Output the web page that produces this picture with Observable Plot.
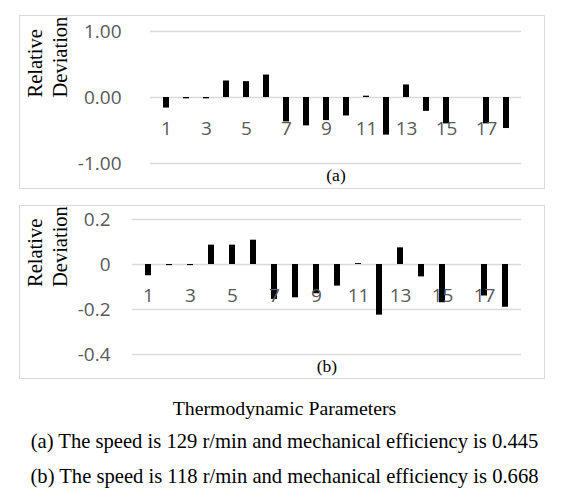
<!DOCTYPE html>
<html><head><meta charset="utf-8">
<script src="https://cdn.jsdelivr.net/npm/d3@7"></script>
<script src="https://cdn.jsdelivr.net/npm/@observablehq/plot@0.6"></script>
<style>
html,body{margin:0;padding:0;background:#fff;}
#root{position:relative;width:561px;height:499px;overflow:hidden;background:#fff;}
.panel{position:absolute;left:19px;width:526px;height:174px;}
.border{position:absolute;left:19px;width:526px;height:174px;box-sizing:border-box;border:1.5px solid #d9d9d9;pointer-events:none;}
.cap{position:absolute;left:0;width:569px;text-align:center;font-family:"Liberation Serif",serif;font-size:20.6px;line-height:24px;color:#000;white-space:nowrap;}
.cap.t{font-size:19.8px;}
</style></head><body><div id="root"></div>
<script>
// Thermodynamic parameter index
const categories = [1, 2, 3, 4, 5, 6, 7, 8, 9, 10, 11, 12, 13, 14, 15, 16, 17, 18];
// (a) 129 r/min, mechanical efficiency 0.445
const deviationA = [-0.16, -0.02, -0.02, 0.25, 0.24, 0.34, -0.37, -0.43, -0.35, -0.28, 0.02, -0.57, 0.19, -0.21, -0.40, 0, -0.40, -0.47];
// (b) 118 r/min, mechanical efficiency 0.668
const deviationB = [-0.05, -0.005, -0.005, 0.086, 0.086, 0.108, -0.155, -0.148, -0.13, -0.096, 0.004, -0.225, 0.074, -0.055, -0.17, 0, -0.14, -0.19];
const xTickLabels = [1, 3, 5, 7, 9, 11, 13, 15, 17];
const yTicksA = [1, 0, -1];
const yTicksB = [0.2, 0, -0.2, -0.4];
const yAxisTitle = "Relative\nDeviation";
const panelTags = ["(a)", "(b)"];
const xTitle = "Thermodynamic Parameters";
const captions = [
  "(a) The speed is 129 r/min and mechanical efficiency is 0.445",
  "(b) The speed is 118 r/min and mechanical efficiency is 0.668"
];

const root = document.getElementById("root");

function makePanel(values, yTicks, fmt, domain, margins, tag, top) {
  const rows = categories.map((c, i) => ({c, v: values[i]}));
  const W = 526, H = 174;
  const titleCenterX = 45.5 - 19; // in svg coords
  const plot = Plot.plot({
    width: W,
    height: H,
    marginLeft: margins.left,
    marginRight: margins.right,
    marginTop: margins.top,
    marginBottom: margins.bottom,
    style: {fontFamily: "'Open Sans', sans-serif", fontSize: "19px", color: "#595959", background: "transparent", overflow: "visible"},
    x: {type: "band", domain: categories, paddingInner: 0.72, paddingOuter: 0.36, axis: null},
    y: {domain, ticks: yTicks, tickFormat: fmt, tickSize: 0, tickPadding: margins.pad, label: null},
    marks: [
      Plot.ruleY(yTicks, {stroke: "#d9d9d9", strokeWidth: 1.5}),
      Plot.barY(rows, {x: "c", y: "v", fill: "#000"}),
      Plot.text(xTickLabels, {x: d => d, y: () => 0, text: d => String(d), dy: 31, fill: "#595959", fontSize: 19}),
      Plot.text([tag], {frameAnchor: "bottom", dy: 17.5, fontFamily: "'Liberation Serif', serif", fontSize: 17.5, fill: "#000"}),
      Plot.text([yAxisTitle], {frameAnchor: "left", rotate: -90, dx: titleCenterX - margins.left, fontFamily: "'Liberation Serif', serif", fontSize: 20.5, lineHeight: 1.22, fill: "#000"})
    ]
  });
  const holder = document.createElement("div");
  holder.className = "panel";
  holder.style.top = top + "px";
  holder.appendChild(plot);
  root.appendChild(holder);
  const border = document.createElement("div");
  border.className = "border";
  border.style.top = top + "px";
  root.appendChild(border);
}

makePanel(deviationA, yTicksA, d => d.toFixed(2), [-1, 1],
  {left: 131, right: 24, top: 16, bottom: 26, pad: 29}, panelTags[0], 15);
makePanel(deviationB, yTicksB, d => d === 0 ? "0" : d.toFixed(1), [-0.4, 0.2],
  {left: 113, right: 24, top: 14, bottom: 25, pad: 22}, panelTags[1], 205);

[[xTitle, 408, "cap t"], [captions[0], 441, "cap"], [captions[1], 476, "cap"]].forEach(([t, cy, cls]) => {
  const d = document.createElement("div");
  d.className = cls;
  d.style.top = (cy - 12) + "px";
  d.textContent = t;
  root.appendChild(d);
});
</script></body></html>
